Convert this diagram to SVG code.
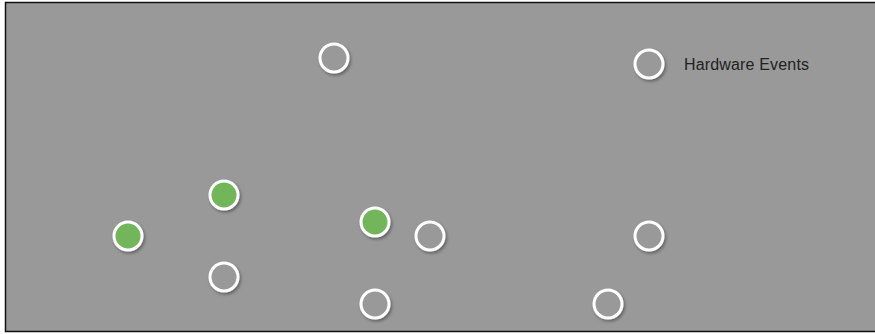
<svg xmlns="http://www.w3.org/2000/svg" width="875" height="334" viewBox="0 0 875 334">
<defs>
<filter id="sh" x="-50%" y="-50%" width="200%" height="200%">
<feDropShadow dx="1.5" dy="2" stdDeviation="1.5" flood-color="#000" flood-opacity="0.35"/>
</filter>
<style>
.n{stroke:#fff;stroke-width:3;filter:url(#sh)}
.e{fill:#999}
.g{fill:#72b55a}
text{font-family:"Liberation Sans",Arial,sans-serif;font-size:16px;fill:#222}
</style>
</defs>
<rect x="0" y="0" width="875" height="334" fill="#fff"/>
<rect x="5.5" y="2.5" width="871" height="329" fill="#999" stroke="#111" stroke-width="1.5"/>
<g id="connectors"></g>
<g id="n1"><circle class="n e" cx="334" cy="58" r="14"/></g>
<g id="n2"><circle class="n e" cx="649" cy="64" r="14"/><text x="684" y="70" textLength="125">Hardware Events</text></g>
<g id="n3"><circle class="n g" cx="224" cy="195" r="14"/></g>
<g id="n4"><circle class="n g" cx="128" cy="236" r="14"/></g>
<g id="n5"><circle class="n g" cx="375" cy="222" r="14"/></g>
<g id="n6"><circle class="n e" cx="430" cy="236" r="14"/></g>
<g id="n7"><circle class="n e" cx="649" cy="236" r="14"/></g>
<g id="n8"><circle class="n e" cx="224" cy="277" r="14"/></g>
<g id="n9"><circle class="n e" cx="375" cy="304" r="14"/></g>
<g id="n10"><circle class="n e" cx="608" cy="304" r="14"/></g>
</svg>
